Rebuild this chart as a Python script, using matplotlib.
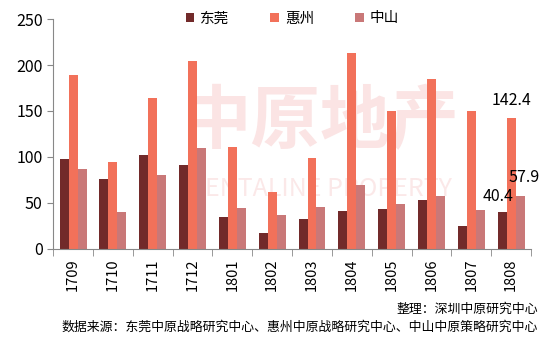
import numpy as np
from matplotlib import pyplot as plt

plt.rcParams['font.family'] = ['Noto Sans CJK SC', 'DejaVu Sans']
plt.rcParams['axes.unicode_minus'] = False

months = ['1709', '1710', '1711', '1712', '1801', '1802',
          '1803', '1804', '1805', '1806', '1807', '1808']
dongguan = [98, 76, 102, 91, 35, 17, 33, 41, 43, 53, 25, 40.4]
huizhou = [189, 94, 164, 204, 111, 62, 99, 213, 150, 185, 150, 142.4]
zhongshan = [87, 40, 80, 110, 45, 37, 46, 70, 49, 58, 42, 57.9]

fig = plt.figure(figsize=(5.48, 3.40), dpi=100)
ax = fig.add_axes([0.097, 0.268, 0.872, 0.676])

x = np.arange(len(months))
w = 0.225
ax.bar(x - w, dongguan, w, color='#722a2a', label='东莞', zorder=2)
ax.bar(x, huizhou, w, color='#f2715a', label='惠州', zorder=2)
ax.bar(x + w, zhongshan, w, color='#c97878', label='中山', zorder=2)

# 水印
ax.text(0.56, 0.55, '中原地产', transform=ax.transAxes, fontsize=50, color='#fbe4e4',
        ha='center', va='center', fontweight='bold', zorder=0.5)
ax.text(0.56, 0.26, 'CENTALINE PROPERTY', transform=ax.transAxes, fontsize=18,
        color='#fbe8e8', ha='center', va='center', zorder=0.5)

# 最后一个月的数值
ax.text(x[-1], huizhou[-1] + 10, '142.4', ha='center', va='bottom', fontsize=11.5, zorder=3)
ax.text(x[-1] - w - 0.1, dongguan[-1] + 7, '40.4', ha='center', va='bottom', fontsize=11.5, zorder=3)
ax.text(x[-1] + 0.72, zhongshan[-1] + 10, '57.9', ha='right', va='bottom', fontsize=11.5, zorder=3)

ax.set_xlim(-0.5, len(months) - 0.5)
ax.set_ylim(0, 250)
ax.set_yticks(range(0, 251, 50))
ax.set_xticks(x)
ax.set_xticklabels(months, rotation=90, fontsize=10.5)
ax.set_xticks(np.arange(-0.5, len(months), 1), minor=True)
ax.tick_params(axis='x', which='major', length=0, pad=7)
ax.tick_params(axis='x', which='minor', length=5, color='#888888')
ax.tick_params(axis='y', length=4, color='#888888', labelsize=11.5)
for s in ['top', 'right']:
    ax.spines[s].set_visible(False)
for s in ['left', 'bottom']:
    ax.spines[s].set_color('#888888')

ax.legend(loc='upper center', bbox_to_anchor=(0.5, 1.09), ncol=3, frameon=False,
          fontsize=10.5, handlelength=0.6, handleheight=0.6, columnspacing=2.8,
          handletextpad=0.4)

fig.text(0.982, 0.08, '整理：深圳中原研究中心', ha='right', fontsize=9.3)
fig.text(0.982, 0.028, '数据来源：东莞中原战略研究中心、惠州中原战略研究中心、中山中原策略研究中心',
         ha='right', fontsize=9.3)

plt.savefig('out.png', dpi=100)
